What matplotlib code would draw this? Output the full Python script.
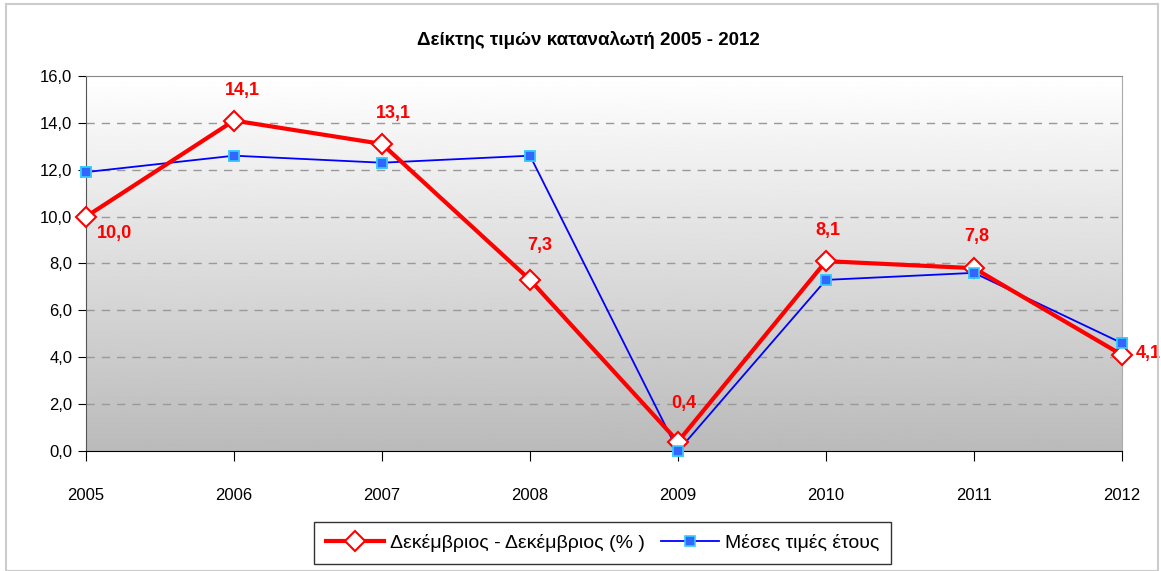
import numpy as np
import matplotlib
matplotlib.use("Agg")
import matplotlib.pyplot as plt
from matplotlib.patches import Rectangle

plt.rcParams["font.family"] = ["Liberation Sans Narrow", "Liberation Sans", "DejaVu Sans"]

years = ["2005", "2006", "2007", "2008", "2009", "2010", "2011", "2012"]
dec_dec = [10.0, 14.1, 13.1, 7.3, 0.4, 8.1, 7.8, 4.1]
avg_year = [11.9, 12.6, 12.3, 12.6, 0.0, 7.3, 7.6, 4.6]
label_dec = "Δεκέμβριος - Δεκέμβριος (% )"
label_avg = "Μέσες τιμές έτους"
title = "Δείκτης τιμών καταναλωτή 2005 - 2012"

fig = plt.figure(figsize=(11.61, 5.71), dpi=100)
ax = fig.add_axes([0.0741, 0.2102, 0.8923, 0.6567])

x = np.arange(len(years))

# gradient background: white at top -> gray at bottom
grad = np.linspace(1.0, 0.73, 256).reshape(-1, 1)
ax.imshow(grad, cmap="gray", vmin=0, vmax=1, aspect="auto",
          extent=[0, len(years) - 1, 0, 16], zorder=0)

for yv in range(2, 16, 2):
    ax.axhline(yv, color="#999999", lw=1, ls=(0, (6, 5)), zorder=1)

blue_kw = dict(marker="s", ms=6.5, mfc="#3366ff", mec="#33ccff", mew=1.2, clip_on=False)
ax.plot(x, avg_year, color="#0000ff", lw=1.3, label=label_avg, zorder=3, **blue_kw)
ax.plot(x, dec_dec, color="#ff0000", lw=3, marker="D", ms=10,
        mfc="white", mec="#ff0000", mew=1.5, label=label_dec, zorder=4,
        clip_on=False)
# blue markers sit on top of the red line
ax.plot(x, avg_year, ls="none", zorder=5, **blue_kw)

offsets = [(28, -17), (8, 30), (11, 30), (10, 34), (6, 38), (2, 31), (3, 32), (26, 1)]
for xi, v, (dx, dy) in zip(x, dec_dec, offsets):
    ax.annotate(f"{v:.1f}".replace(".", ","), (xi, v), xytext=(dx, dy),
                textcoords="offset pixels", ha="center", va="center",
                color="#ff0000", fontsize=13, fontweight="bold", zorder=6)

ax.set_xlim(0, len(years) - 1)
ax.set_ylim(0, 16)
ax.set_xticks(x)
ax.set_xticklabels(years)
ax.set_yticks(np.arange(0, 17, 2))
ax.set_yticklabels([f"{v:.1f}".replace(".", ",") for v in np.arange(0, 17, 2)])
ax.tick_params(axis="x", length=7, pad=20, labelsize=12, direction="out")
ax.tick_params(axis="y", length=6, pad=4, labelsize=12, direction="out")

ax.spines["bottom"].set_color("black")
ax.spines["left"].set_color("#555555")
ax.spines["top"].set_color("#888888")
ax.spines["right"].set_color("#aaaaaa")

fig.text(0.5065, 1 - 40 / 571, title, fontsize=13.5, fontweight="bold",
         ha="center", va="center")

handles, labels = ax.get_legend_handles_labels()
leg = fig.legend(handles[::-1], labels[::-1], loc="center", ncol=2,
                 bbox_to_anchor=(0.519, 0.049), fontsize=14, frameon=True,
                 fancybox=False, edgecolor="black", handlelength=3,
                 columnspacing=0.8, handletextpad=0.3, borderpad=0.6)
leg.get_frame().set_linewidth(1)

fig.patches.append(Rectangle((0.005, 0.0), 0.992, 0.993, transform=fig.transFigure,
                             fill=False, edgecolor="#cccccc", lw=1.5))

fig.savefig("out.png", dpi=100)
